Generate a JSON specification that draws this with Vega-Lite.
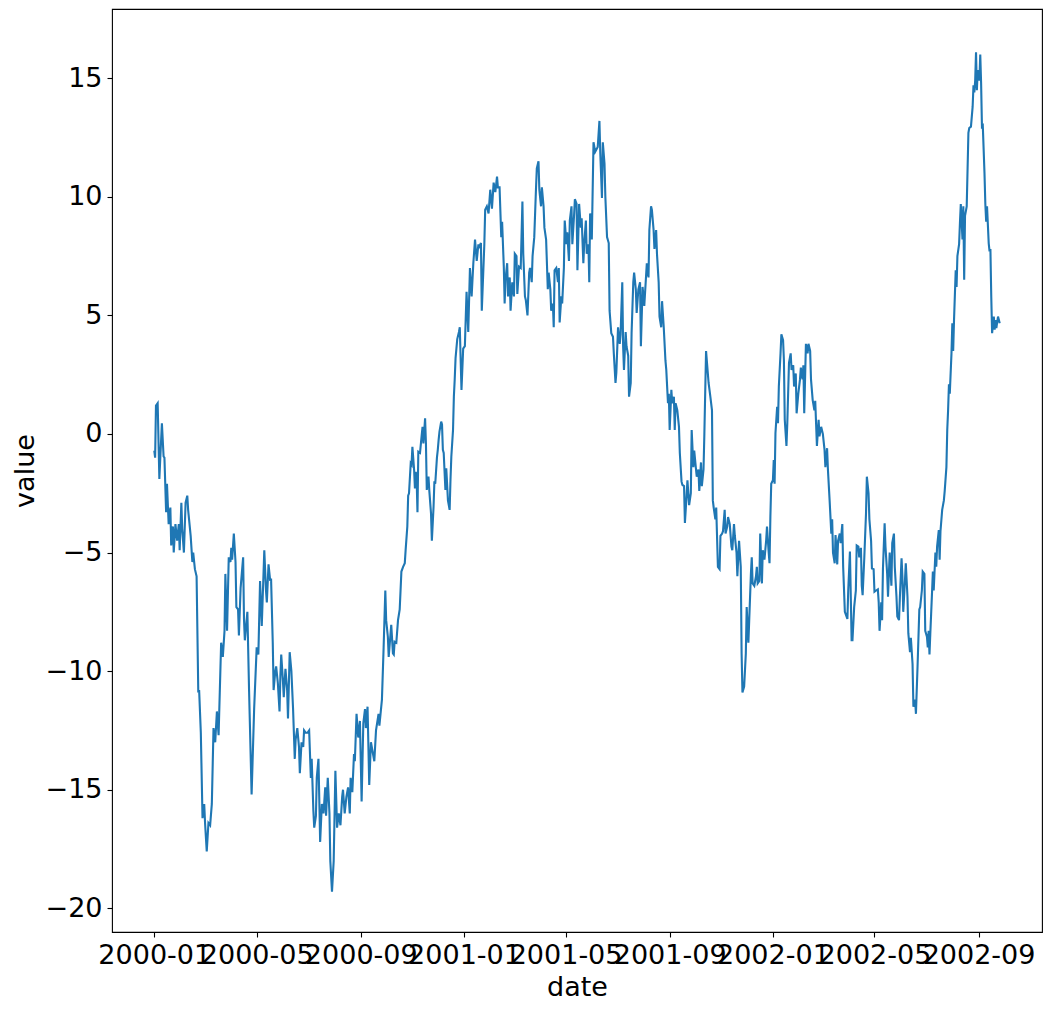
{
  "$schema": "https://vega.github.io/schema/vega-lite/v6.json",
  "width": 930,
  "height": 923,
  "autosize": {"type": "none"},
  "padding": {"left": 112, "top": 9, "right": 10, "bottom": 82},
  "background": "white",
  "config": {
    "view": {"stroke": "black", "strokeWidth": 1.1},
    "font": "DejaVu Sans",
    "axis": {
      "grid": false,
      "domain": false,
      "tickColor": "black",
      "tickSize": 5,
      "tickWidth": 1.1,
      "labelFont": "DejaVu Sans",
      "labelFontSize": 27,
      "labelColor": "black",
      "labelPadding": 5,
      "titleFont": "DejaVu Sans",
      "titleFontSize": 27,
      "titleFontWeight": "normal",
      "titleColor": "black",
      "titlePadding": 6
    }
  },
  "data": {"values": [
{"date":"2000-01-01","value":-0.7},{"date":"2000-01-02","value":-1.0},{"date":"2000-01-03","value":1.2},{"date":"2000-01-05","value":1.3},{"date":"2000-01-07","value":-1.9},{"date":"2000-01-08","value":-1.1},{"date":"2000-01-10","value":0.45},{"date":"2000-01-12","value":-0.95},{"date":"2000-01-13","value":-1.0},{"date":"2000-01-15","value":-3.3},{"date":"2000-01-16","value":-2.1},{"date":"2000-01-18","value":-3.8},{"date":"2000-01-20","value":-3.1},{"date":"2000-01-21","value":-4.7},{"date":"2000-01-23","value":-3.9},{"date":"2000-01-24","value":-5.0},{"date":"2000-01-26","value":-3.8},{"date":"2000-01-28","value":-4.5},{"date":"2000-01-30","value":-3.8},{"date":"2000-01-31","value":-4.9},
{"date":"2000-02-02","value":-2.9},{"date":"2000-02-03","value":-4.0},{"date":"2000-02-05","value":-5.0},{"date":"2000-02-07","value":-2.9},{"date":"2000-02-09","value":-2.6},{"date":"2000-02-10","value":-3.2},{"date":"2000-02-13","value":-4.3},{"date":"2000-02-15","value":-5.4},{"date":"2000-02-16","value":-5.0},{"date":"2000-02-18","value":-5.7},{"date":"2000-02-20","value":-6.0},{"date":"2000-02-22","value":-10.9},{"date":"2000-02-23","value":-10.8},{"date":"2000-02-25","value":-12.6},{"date":"2000-02-27","value":-16.2},{"date":"2000-02-29","value":-15.6},
{"date":"2000-03-01","value":-16.4},{"date":"2000-03-03","value":-17.6},{"date":"2000-03-05","value":-16.4},{"date":"2000-03-07","value":-16.5},{"date":"2000-03-09","value":-15.6},{"date":"2000-03-11","value":-12.4},{"date":"2000-03-13","value":-13.0},{"date":"2000-03-15","value":-11.7},{"date":"2000-03-17","value":-12.7},{"date":"2000-03-20","value":-8.8},{"date":"2000-03-22","value":-9.4},{"date":"2000-03-24","value":-8.3},{"date":"2000-03-25","value":-5.9},{"date":"2000-03-27","value":-8.3},{"date":"2000-03-29","value":-5.2},{"date":"2000-03-31","value":-5.4},
{"date":"2000-04-01","value":-4.8},{"date":"2000-04-02","value":-5.3},{"date":"2000-04-04","value":-4.2},{"date":"2000-04-06","value":-5.4},{"date":"2000-04-07","value":-7.3},{"date":"2000-04-09","value":-7.4},{"date":"2000-04-10","value":-8.5},{"date":"2000-04-12","value":-6.5},{"date":"2000-04-15","value":-5.2},{"date":"2000-04-16","value":-7.8},{"date":"2000-04-17","value":-8.7},{"date":"2000-04-20","value":-7.5},{"date":"2000-04-22","value":-10.8},{"date":"2000-04-25","value":-15.2},{"date":"2000-04-28","value":-11.6},
{"date":"2000-05-01","value":-9.0},{"date":"2000-05-03","value":-9.3},{"date":"2000-05-05","value":-6.2},{"date":"2000-05-07","value":-8.1},{"date":"2000-05-10","value":-4.9},{"date":"2000-05-12","value":-6.6},{"date":"2000-05-13","value":-7.1},{"date":"2000-05-15","value":-5.5},{"date":"2000-05-17","value":-6.2},{"date":"2000-05-18","value":-6.1},{"date":"2000-05-20","value":-8.8},{"date":"2000-05-21","value":-10.8},{"date":"2000-05-23","value":-10.0},{"date":"2000-05-24","value":-9.8},{"date":"2000-05-26","value":-10.5},{"date":"2000-05-28","value":-11.7},{"date":"2000-05-29","value":-10.2},{"date":"2000-05-30","value":-9.3},
{"date":"2000-06-01","value":-10.4},{"date":"2000-06-02","value":-11.1},{"date":"2000-06-04","value":-9.9},{"date":"2000-06-06","value":-10.8},{"date":"2000-06-07","value":-12.0},{"date":"2000-06-09","value":-9.2},{"date":"2000-06-11","value":-10.0},{"date":"2000-06-13","value":-11.6},{"date":"2000-06-15","value":-13.7},{"date":"2000-06-16","value":-12.9},{"date":"2000-06-18","value":-12.4},{"date":"2000-06-20","value":-13.2},{"date":"2000-06-21","value":-14.3},{"date":"2000-06-23","value":-13.0},{"date":"2000-06-25","value":-13.2},{"date":"2000-06-26","value":-12.5},{"date":"2000-06-28","value":-12.6},{"date":"2000-06-30","value":-12.6},
{"date":"2000-07-02","value":-12.5},{"date":"2000-07-04","value":-14.5},{"date":"2000-07-05","value":-13.7},{"date":"2000-07-07","value":-15.9},{"date":"2000-07-08","value":-16.6},{"date":"2000-07-10","value":-16.1},{"date":"2000-07-11","value":-14.5},{"date":"2000-07-13","value":-13.7},{"date":"2000-07-15","value":-17.2},{"date":"2000-07-17","value":-15.6},{"date":"2000-07-19","value":-16.0},{"date":"2000-07-21","value":-14.9},{"date":"2000-07-22","value":-16.1},{"date":"2000-07-24","value":-14.5},{"date":"2000-07-26","value":-16.0},{"date":"2000-07-27","value":-18.0},{"date":"2000-07-29","value":-19.3},{"date":"2000-07-31","value":-18.0},
{"date":"2000-08-02","value":-14.2},{"date":"2000-08-04","value":-16.6},{"date":"2000-08-06","value":-16.0},{"date":"2000-08-08","value":-16.5},{"date":"2000-08-10","value":-15.3},{"date":"2000-08-11","value":-15.0},{"date":"2000-08-13","value":-16.0},{"date":"2000-08-15","value":-15.3},{"date":"2000-08-17","value":-14.9},{"date":"2000-08-19","value":-16.0},{"date":"2000-08-20","value":-14.5},{"date":"2000-08-22","value":-15.1},{"date":"2000-08-24","value":-13.5},{"date":"2000-08-25","value":-13.8},{"date":"2000-08-27","value":-11.8},{"date":"2000-08-29","value":-12.8},{"date":"2000-08-31","value":-12.1},
{"date":"2000-09-02","value":-15.5},{"date":"2000-09-04","value":-12.2},{"date":"2000-09-06","value":-11.6},{"date":"2000-09-07","value":-12.4},{"date":"2000-09-09","value":-11.5},{"date":"2000-09-11","value":-14.8},{"date":"2000-09-13","value":-13.0},{"date":"2000-09-15","value":-13.4},{"date":"2000-09-17","value":-13.8},{"date":"2000-09-19","value":-12.5},{"date":"2000-09-22","value":-11.8},{"date":"2000-09-23","value":-12.3},{"date":"2000-09-26","value":-11.2},{"date":"2000-09-28","value":-9.0},{"date":"2000-09-30","value":-6.6},
{"date":"2000-10-01","value":-7.85},{"date":"2000-10-03","value":-8.55},{"date":"2000-10-04","value":-9.4},{"date":"2000-10-06","value":-8.5},{"date":"2000-10-07","value":-8.05},{"date":"2000-10-09","value":-9.25},{"date":"2000-10-10","value":-9.3},{"date":"2000-10-11","value":-8.76},{"date":"2000-10-13","value":-8.8},{"date":"2000-10-15","value":-7.85},{"date":"2000-10-17","value":-7.4},{"date":"2000-10-18","value":-6.6},{"date":"2000-10-19","value":-5.8},{"date":"2000-10-21","value":-5.6},{"date":"2000-10-23","value":-5.45},{"date":"2000-10-24","value":-4.9},{"date":"2000-10-26","value":-3.9},{"date":"2000-10-27","value":-2.6},{"date":"2000-10-28","value":-2.5},{"date":"2000-10-30","value":-1.24},{"date":"2000-10-31","value":-1.3},
{"date":"2000-11-01","value":-0.54},{"date":"2000-11-03","value":-1.5},{"date":"2000-11-04","value":-2.3},{"date":"2000-11-05","value":-1.6},{"date":"2000-11-06","value":-1.9},{"date":"2000-11-07","value":-3.3},{"date":"2000-11-08","value":-0.75},{"date":"2000-11-10","value":-0.8},{"date":"2000-11-12","value":-0.05},{"date":"2000-11-13","value":0.3},{"date":"2000-11-14","value":-0.4},{"date":"2000-11-16","value":0.66},{"date":"2000-11-17","value":-0.4},{"date":"2000-11-18","value":-2.36},{"date":"2000-11-20","value":-1.8},{"date":"2000-11-21","value":-2.4},{"date":"2000-11-23","value":-3.35},{"date":"2000-11-24","value":-4.5},{"date":"2000-11-26","value":-3.07},{"date":"2000-11-27","value":-2.0},{"date":"2000-11-28","value":-2.1},{"date":"2000-11-30","value":-1.0},
{"date":"2000-12-01","value":-0.67},{"date":"2000-12-02","value":-0.25},{"date":"2000-12-03","value":0.1},{"date":"2000-12-05","value":0.52},{"date":"2000-12-06","value":0.4},{"date":"2000-12-07","value":-0.67},{"date":"2000-12-08","value":-0.8},{"date":"2000-12-10","value":-2.36},{"date":"2000-12-11","value":-1.45},{"date":"2000-12-12","value":-2.1},{"date":"2000-12-13","value":-2.8},{"date":"2000-12-15","value":-3.2},{"date":"2000-12-16","value":-1.94},{"date":"2000-12-17","value":-0.96},{"date":"2000-12-19","value":0.17},{"date":"2000-12-20","value":1.57},{"date":"2000-12-21","value":2.3},{"date":"2000-12-22","value":3.2},{"date":"2000-12-24","value":4.0},{"date":"2000-12-26","value":4.3},{"date":"2000-12-27","value":4.5},{"date":"2000-12-29","value":1.86},{"date":"2000-12-31","value":3.6},
{"date":"2001-01-02","value":3.7},{"date":"2001-01-04","value":6.0},{"date":"2001-01-06","value":4.3},{"date":"2001-01-08","value":7.0},{"date":"2001-01-10","value":5.8},{"date":"2001-01-12","value":7.2},{"date":"2001-01-14","value":8.2},{"date":"2001-01-16","value":7.3},{"date":"2001-01-18","value":8.0},{"date":"2001-01-19","value":7.9},{"date":"2001-01-21","value":8.05},{"date":"2001-01-22","value":5.2},{"date":"2001-01-25","value":8.0},{"date":"2001-01-26","value":9.45},{"date":"2001-01-28","value":9.6},{"date":"2001-01-30","value":9.3},
{"date":"2001-02-01","value":10.3},{"date":"2001-02-03","value":9.5},{"date":"2001-02-05","value":10.6},{"date":"2001-02-07","value":10.2},{"date":"2001-02-09","value":10.85},{"date":"2001-02-10","value":10.4},{"date":"2001-02-12","value":10.4},{"date":"2001-02-14","value":8.3},{"date":"2001-02-15","value":8.95},{"date":"2001-02-17","value":7.06},{"date":"2001-02-18","value":5.5},{"date":"2001-02-19","value":6.5},{"date":"2001-02-21","value":7.2},{"date":"2001-02-22","value":5.8},{"date":"2001-02-24","value":6.6},{"date":"2001-02-25","value":5.2},{"date":"2001-02-27","value":6.4},
{"date":"2001-03-01","value":5.8},{"date":"2001-03-02","value":7.6},{"date":"2001-03-04","value":7.5},{"date":"2001-03-05","value":5.9},{"date":"2001-03-07","value":7.06},{"date":"2001-03-09","value":7.0},{"date":"2001-03-11","value":9.8},{"date":"2001-03-12","value":7.6},{"date":"2001-03-14","value":5.8},{"date":"2001-03-15","value":5.65},{"date":"2001-03-17","value":5.0},{"date":"2001-03-19","value":6.8},{"date":"2001-03-20","value":7.0},{"date":"2001-03-22","value":6.4},{"date":"2001-03-23","value":7.5},{"date":"2001-03-25","value":8.3},{"date":"2001-03-27","value":10.3},{"date":"2001-03-28","value":11.2},{"date":"2001-03-30","value":11.5},{"date":"2001-03-31","value":10.3},
{"date":"2001-04-02","value":9.6},{"date":"2001-04-03","value":10.4},{"date":"2001-04-05","value":9.6},{"date":"2001-04-06","value":8.7},{"date":"2001-04-08","value":8.2},{"date":"2001-04-10","value":6.1},{"date":"2001-04-11","value":6.8},{"date":"2001-04-13","value":6.1},{"date":"2001-04-14","value":5.2},{"date":"2001-04-16","value":5.5},{"date":"2001-04-17","value":4.5},{"date":"2001-04-18","value":6.9},{"date":"2001-04-20","value":7.0},{"date":"2001-04-22","value":6.4},{"date":"2001-04-23","value":7.0},{"date":"2001-04-24","value":4.7},{"date":"2001-04-26","value":5.8},{"date":"2001-04-27","value":5.5},{"date":"2001-04-29","value":7.0},{"date":"2001-04-30","value":9.0},
{"date":"2001-05-02","value":8.0},{"date":"2001-05-03","value":8.5},{"date":"2001-05-05","value":7.3},{"date":"2001-05-06","value":9.0},{"date":"2001-05-08","value":9.6},{"date":"2001-05-09","value":8.0},{"date":"2001-05-11","value":9.2},{"date":"2001-05-12","value":9.9},{"date":"2001-05-14","value":9.7},{"date":"2001-05-15","value":6.9},{"date":"2001-05-17","value":9.7},{"date":"2001-05-19","value":8.7},{"date":"2001-05-20","value":9.1},{"date":"2001-05-22","value":7.2},{"date":"2001-05-23","value":8.0},{"date":"2001-05-25","value":9.0},{"date":"2001-05-26","value":7.6},{"date":"2001-05-28","value":8.0},{"date":"2001-05-29","value":6.4},{"date":"2001-05-30","value":9.3},
{"date":"2001-06-01","value":8.2},{"date":"2001-06-03","value":12.3},{"date":"2001-06-05","value":11.9},{"date":"2001-06-08","value":12.1},{"date":"2001-06-10","value":13.2},{"date":"2001-06-11","value":11.85},{"date":"2001-06-13","value":9.95},{"date":"2001-06-14","value":12.3},{"date":"2001-06-16","value":11.4},{"date":"2001-06-17","value":10.0},{"date":"2001-06-19","value":8.3},{"date":"2001-06-21","value":8.05},{"date":"2001-06-22","value":5.2},{"date":"2001-06-24","value":4.25},{"date":"2001-06-26","value":4.1},{"date":"2001-06-27","value":3.4},{"date":"2001-06-29","value":2.15},{"date":"2001-06-30","value":2.6},
{"date":"2001-07-02","value":4.5},{"date":"2001-07-04","value":3.8},{"date":"2001-07-05","value":4.2},{"date":"2001-07-07","value":6.4},{"date":"2001-07-08","value":3.7},{"date":"2001-07-09","value":2.7},{"date":"2001-07-11","value":4.3},{"date":"2001-07-12","value":3.7},{"date":"2001-07-14","value":3.3},{"date":"2001-07-15","value":1.57},{"date":"2001-07-17","value":2.15},{"date":"2001-07-18","value":4.25},{"date":"2001-07-20","value":6.4},{"date":"2001-07-21","value":6.8},{"date":"2001-07-23","value":6.1},{"date":"2001-07-24","value":5.1},{"date":"2001-07-26","value":6.1},{"date":"2001-07-28","value":6.4},{"date":"2001-07-29","value":3.7},{"date":"2001-07-31","value":6.2},
{"date":"2001-08-01","value":5.8},{"date":"2001-08-02","value":5.4},{"date":"2001-08-04","value":6.6},{"date":"2001-08-05","value":7.2},{"date":"2001-08-07","value":6.6},{"date":"2001-08-08","value":8.6},{"date":"2001-08-10","value":9.6},{"date":"2001-08-11","value":9.45},{"date":"2001-08-13","value":8.6},{"date":"2001-08-14","value":7.8},{"date":"2001-08-16","value":8.6},{"date":"2001-08-17","value":7.6},{"date":"2001-08-19","value":6.4},{"date":"2001-08-20","value":4.95},{"date":"2001-08-22","value":4.5},{"date":"2001-08-23","value":5.6},{"date":"2001-08-25","value":4.5},{"date":"2001-08-27","value":3.1},{"date":"2001-08-28","value":2.7},{"date":"2001-08-30","value":1.3},{"date":"2001-08-31","value":1.7},
{"date":"2001-09-01","value":0.17},{"date":"2001-09-03","value":1.86},{"date":"2001-09-04","value":1.3},{"date":"2001-09-06","value":1.57},{"date":"2001-09-07","value":0.17},{"date":"2001-09-08","value":1.3},{"date":"2001-09-10","value":1.0},{"date":"2001-09-12","value":0.3},{"date":"2001-09-13","value":-0.8},{"date":"2001-09-15","value":-2.0},{"date":"2001-09-16","value":-2.15},{"date":"2001-09-18","value":-2.2},{"date":"2001-09-19","value":-3.75},{"date":"2001-09-21","value":-2.6},{"date":"2001-09-22","value":-1.95},{"date":"2001-09-24","value":-3.0},{"date":"2001-09-26","value":-2.5},{"date":"2001-09-27","value":0.17},{"date":"2001-09-29","value":-1.4},{"date":"2001-09-30","value":-0.7},
{"date":"2001-10-02","value":-1.45},{"date":"2001-10-03","value":-1.8},{"date":"2001-10-05","value":-1.5},{"date":"2001-10-06","value":-2.4},{"date":"2001-10-08","value":-1.2},{"date":"2001-10-09","value":-2.2},{"date":"2001-10-11","value":-1.5},{"date":"2001-10-12","value":0.0},{"date":"2001-10-14","value":3.5},{"date":"2001-10-16","value":2.6},{"date":"2001-10-17","value":2.15},{"date":"2001-10-19","value":1.6},{"date":"2001-10-21","value":1.0},{"date":"2001-10-22","value":-2.8},{"date":"2001-10-23","value":-3.1},{"date":"2001-10-25","value":-3.6},{"date":"2001-10-26","value":-3.1},{"date":"2001-10-28","value":-5.6},{"date":"2001-10-30","value":-5.7},{"date":"2001-10-31","value":-4.3},
{"date":"2001-11-02","value":-4.2},{"date":"2001-11-03","value":-4.1},{"date":"2001-11-05","value":-3.2},{"date":"2001-11-06","value":-4.2},{"date":"2001-11-08","value":-3.9},{"date":"2001-11-09","value":-3.5},{"date":"2001-11-11","value":-3.8},{"date":"2001-11-13","value":-4.75},{"date":"2001-11-14","value":-4.9},{"date":"2001-11-16","value":-3.8},{"date":"2001-11-17","value":-4.3},{"date":"2001-11-19","value":-5.0},{"date":"2001-11-20","value":-6.0},{"date":"2001-11-22","value":-4.5},{"date":"2001-11-24","value":-5.6},{"date":"2001-11-25","value":-9.25},{"date":"2001-11-26","value":-10.9},{"date":"2001-11-28","value":-10.65},{"date":"2001-11-30","value":-9.25},
{"date":"2001-12-01","value":-7.3},{"date":"2001-12-03","value":-8.8},{"date":"2001-12-04","value":-7.85},{"date":"2001-12-06","value":-5.9},{"date":"2001-12-07","value":-5.2},{"date":"2001-12-08","value":-6.3},{"date":"2001-12-10","value":-6.4},{"date":"2001-12-12","value":-6.0},{"date":"2001-12-13","value":-5.6},{"date":"2001-12-14","value":-6.3},{"date":"2001-12-16","value":-6.2},{"date":"2001-12-17","value":-4.2},{"date":"2001-12-19","value":-6.3},{"date":"2001-12-20","value":-4.9},{"date":"2001-12-22","value":-5.3},{"date":"2001-12-24","value":-4.5},{"date":"2001-12-25","value":-3.9},{"date":"2001-12-27","value":-5.0},{"date":"2001-12-28","value":-5.45},{"date":"2001-12-29","value":-3.5},{"date":"2001-12-30","value":-2.1},
{"date":"2002-01-01","value":-1.95},{"date":"2002-01-02","value":-1.1},{"date":"2002-01-03","value":-2.1},{"date":"2002-01-04","value":0.03},{"date":"2002-01-06","value":1.15},{"date":"2002-01-07","value":0.45},{"date":"2002-01-08","value":2.0},{"date":"2002-01-10","value":3.4},{"date":"2002-01-11","value":4.2},{"date":"2002-01-13","value":3.96},{"date":"2002-01-14","value":3.1},{"date":"2002-01-15","value":0.6},{"date":"2002-01-17","value":-0.5},{"date":"2002-01-18","value":0.45},{"date":"2002-01-20","value":3.0},{"date":"2002-01-22","value":3.4},{"date":"2002-01-23","value":2.7},{"date":"2002-01-25","value":2.9},{"date":"2002-01-26","value":2.0},{"date":"2002-01-28","value":2.55},{"date":"2002-01-29","value":0.87},{"date":"2002-01-31","value":1.7},
{"date":"2002-02-02","value":2.3},{"date":"2002-02-03","value":2.8},{"date":"2002-02-05","value":2.3},{"date":"2002-02-06","value":2.9},{"date":"2002-02-07","value":0.87},{"date":"2002-02-09","value":3.8},{"date":"2002-02-11","value":3.4},{"date":"2002-02-12","value":3.8},{"date":"2002-02-14","value":3.5},{"date":"2002-02-15","value":2.3},{"date":"2002-02-17","value":1.43},{"date":"2002-02-19","value":1.0},{"date":"2002-02-20","value":1.4},{"date":"2002-02-22","value":-0.5},{"date":"2002-02-24","value":0.6},{"date":"2002-02-25","value":-0.1},{"date":"2002-02-27","value":0.3},
{"date":"2002-03-01","value":0.0},{"date":"2002-03-03","value":-0.67},{"date":"2002-03-04","value":-1.4},{"date":"2002-03-06","value":-0.6},{"date":"2002-03-07","value":-1.5},{"date":"2002-03-09","value":-2.8},{"date":"2002-03-11","value":-4.2},{"date":"2002-03-12","value":-3.6},{"date":"2002-03-13","value":-5.0},{"date":"2002-03-15","value":-5.45},{"date":"2002-03-16","value":-4.26},{"date":"2002-03-18","value":-5.5},{"date":"2002-03-19","value":-4.5},{"date":"2002-03-21","value":-4.2},{"date":"2002-03-22","value":-4.6},{"date":"2002-03-24","value":-3.8},{"date":"2002-03-25","value":-5.6},{"date":"2002-03-27","value":-7.5},{"date":"2002-03-28","value":-7.6},{"date":"2002-03-30","value":-7.8},{"date":"2002-03-31","value":-6.6},
{"date":"2002-04-02","value":-4.96},{"date":"2002-04-04","value":-8.7},{"date":"2002-04-05","value":-8.7},{"date":"2002-04-07","value":-7.3},{"date":"2002-04-09","value":-6.6},{"date":"2002-04-10","value":-4.7},{"date":"2002-04-12","value":-4.75},{"date":"2002-04-13","value":-5.2},{"date":"2002-04-15","value":-4.8},{"date":"2002-04-16","value":-6.4},{"date":"2002-04-17","value":-6.8},{"date":"2002-04-19","value":-5.2},{"date":"2002-04-21","value":-3.35},{"date":"2002-04-22","value":-1.8},{"date":"2002-04-24","value":-2.5},{"date":"2002-04-25","value":-3.6},{"date":"2002-04-27","value":-4.5},{"date":"2002-04-28","value":-5.67},{"date":"2002-04-30","value":-5.7},
{"date":"2002-05-01","value":-6.65},{"date":"2002-05-03","value":-6.6},{"date":"2002-05-05","value":-6.55},{"date":"2002-05-06","value":-7.1},{"date":"2002-05-07","value":-8.3},{"date":"2002-05-09","value":-7.1},{"date":"2002-05-10","value":-7.85},{"date":"2002-05-11","value":-5.7},{"date":"2002-05-13","value":-3.77},{"date":"2002-05-14","value":-4.75},{"date":"2002-05-16","value":-5.9},{"date":"2002-05-17","value":-6.86},{"date":"2002-05-19","value":-5.0},{"date":"2002-05-21","value":-6.4},{"date":"2002-05-22","value":-4.6},{"date":"2002-05-24","value":-4.2},{"date":"2002-05-25","value":-5.6},{"date":"2002-05-27","value":-6.86},{"date":"2002-05-28","value":-7.7},{"date":"2002-05-30","value":-7.85},{"date":"2002-05-31","value":-6.9},
{"date":"2002-06-02","value":-5.24},{"date":"2002-06-03","value":-6.0},{"date":"2002-06-04","value":-7.5},{"date":"2002-06-06","value":-6.2},{"date":"2002-06-07","value":-5.45},{"date":"2002-06-09","value":-6.86},{"date":"2002-06-10","value":-8.4},{"date":"2002-06-12","value":-9.2},{"date":"2002-06-13","value":-8.6},{"date":"2002-06-15","value":-9.7},{"date":"2002-06-16","value":-11.5},{"date":"2002-06-18","value":-11.2},{"date":"2002-06-19","value":-11.8},{"date":"2002-06-21","value":-9.7},{"date":"2002-06-23","value":-7.4},{"date":"2002-06-24","value":-7.3},{"date":"2002-06-26","value":-6.6},{"date":"2002-06-27","value":-5.8},{"date":"2002-06-29","value":-5.9},{"date":"2002-06-30","value":-8.3},
{"date":"2002-07-02","value":-8.55},{"date":"2002-07-03","value":-9.0},{"date":"2002-07-04","value":-8.3},{"date":"2002-07-05","value":-9.3},{"date":"2002-07-06","value":-8.4},{"date":"2002-07-08","value":-6.7},{"date":"2002-07-09","value":-5.8},{"date":"2002-07-10","value":-6.6},{"date":"2002-07-12","value":-5.0},{"date":"2002-07-13","value":-5.6},{"date":"2002-07-14","value":-4.75},{"date":"2002-07-16","value":-4.05},{"date":"2002-07-17","value":-5.3},{"date":"2002-07-18","value":-4.1},{"date":"2002-07-20","value":-3.2},{"date":"2002-07-22","value":-2.8},{"date":"2002-07-23","value":-2.4},{"date":"2002-07-25","value":-1.4},{"date":"2002-07-26","value":0.17},{"date":"2002-07-27","value":1.0},{"date":"2002-07-28","value":2.1},{"date":"2002-07-29","value":1.7},{"date":"2002-07-31","value":3.4},
{"date":"2002-08-01","value":4.67},{"date":"2002-08-02","value":3.5},{"date":"2002-08-03","value":4.8},{"date":"2002-08-05","value":6.9},{"date":"2002-08-06","value":6.2},{"date":"2002-08-07","value":7.5},{"date":"2002-08-09","value":8.0},{"date":"2002-08-10","value":8.9},{"date":"2002-08-11","value":9.7},{"date":"2002-08-13","value":8.2},{"date":"2002-08-14","value":9.6},{"date":"2002-08-15","value":6.5},{"date":"2002-08-16","value":9.2},{"date":"2002-08-18","value":9.6},{"date":"2002-08-20","value":12.7},{"date":"2002-08-21","value":12.9},{"date":"2002-08-23","value":12.96},{"date":"2002-08-25","value":13.8},{"date":"2002-08-26","value":14.7},{"date":"2002-08-27","value":14.4},{"date":"2002-08-28","value":14.9},{"date":"2002-08-29","value":16.1},{"date":"2002-08-30","value":14.5},{"date":"2002-08-31","value":15.35},
{"date":"2002-09-02","value":14.9},{"date":"2002-09-03","value":16.0},{"date":"2002-09-04","value":14.8},{"date":"2002-09-05","value":12.96},{"date":"2002-09-06","value":13.0},{"date":"2002-09-07","value":12.0},{"date":"2002-09-08","value":11.0},{"date":"2002-09-09","value":9.7},{"date":"2002-09-10","value":8.95},{"date":"2002-09-11","value":9.6},{"date":"2002-09-13","value":8.04},{"date":"2002-09-14","value":7.7},{"date":"2002-09-15","value":7.8},{"date":"2002-09-16","value":5.8},{"date":"2002-09-17","value":4.25},{"date":"2002-09-19","value":4.95},{"date":"2002-09-20","value":4.4},{"date":"2002-09-21","value":4.8},{"date":"2002-09-22","value":4.46},{"date":"2002-09-24","value":4.95},{"date":"2002-09-26","value":4.67}
  ]},
  "mark": {"type": "line", "color": "#1f77b4", "strokeWidth": 2.1, "clip": true},
  "encoding": {
    "x": {
      "field": "date",
      "type": "temporal",
      "title": "date",
      "scale": {
        "type": "utc",
        "nice": false,
        "domain": [
          {"year": 1999, "month": 11, "date": 12, "hours": 1, "utc": true},
          {"year": 2002, "month": 11, "date": 14, "hours": 23, "utc": true}
        ]
      },
      "axis": {
        "labelExpr": "utcFormat(datum.value, '%Y-%m')",
        "labelOverlap": false,
        "labelFlush": false,
        "values": [
          {"year": 2000, "month": 1, "date": 1, "utc": true},
          {"year": 2000, "month": 5, "date": 1, "utc": true},
          {"year": 2000, "month": 9, "date": 1, "utc": true},
          {"year": 2001, "month": 1, "date": 1, "utc": true},
          {"year": 2001, "month": 5, "date": 1, "utc": true},
          {"year": 2001, "month": 9, "date": 1, "utc": true},
          {"year": 2002, "month": 1, "date": 1, "utc": true},
          {"year": 2002, "month": 5, "date": 1, "utc": true},
          {"year": 2002, "month": 9, "date": 1, "utc": true}
        ]
      }
    },
    "y": {
      "field": "value",
      "type": "quantitative",
      "title": "value",
      "scale": {"domain": [-21.0, 17.92], "nice": false, "zero": false},
      "axis": {"values": [-20, -15, -10, -5, 0, 5, 10, 15], "labelOverlap": false, "labelFlush": false}
    }
  }
}
